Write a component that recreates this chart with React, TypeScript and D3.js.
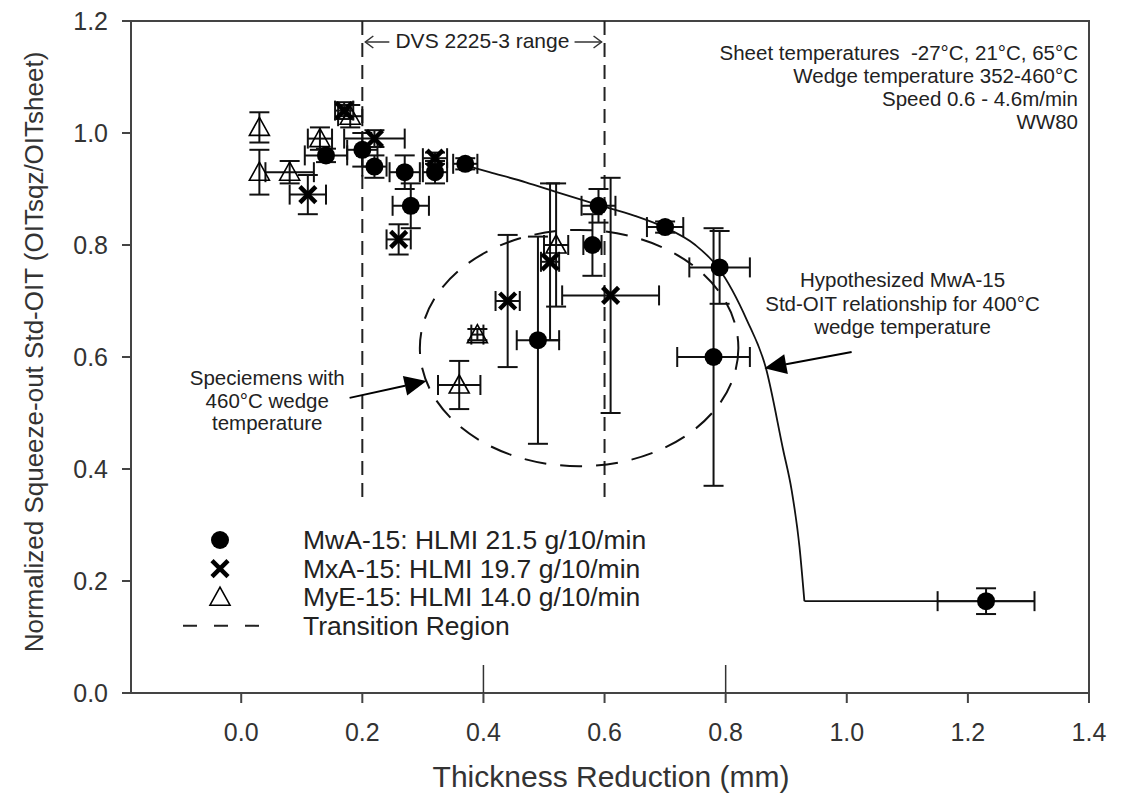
import React from 'react'
import * as d3 from 'd3'

// MwA-15 (filled circles)
const mwaX = [0.14, 0.2, 0.22, 0.27, 0.28, 0.32, 0.37, 0.49, 0.58, 0.59, 0.7, 0.78, 0.79, 1.23]
const mwaY = [0.96, 0.97, 0.94, 0.93, 0.87, 0.93, 0.945, 0.63, 0.8, 0.87, 0.832, 0.6, 0.76, 0.164]
const mwaXErr = [0.035, 0.025, 0.02, 0.025, 0.03, 0.02, 0.02, 0.035, 0.015, 0.028, 0.03, 0.06, 0.05, 0.08]
const mwaYErr = [0.012, 0.03, 0.02, 0.03, 0.04, 0.02, 0.01, 0.185, 0.055, 0.03, 0.01, 0.23, 0.065, 0.023]

// MxA-15 (crosses)
const mxaX = [0.11, 0.17, 0.22, 0.26, 0.32, 0.44, 0.51, 0.61]
const mxaY = [0.89, 1.04, 0.99, 0.81, 0.955, 0.7, 0.77, 0.71]
const mxaXErr = [0.03, 0.015, 0.05, 0.02, 0.02, 0.02, 0.015, 0.08]
const mxaYErr = [0.035, 0.015, 0.015, 0.027, 0.01, 0.118, 0.14, 0.21]

// MyE-15 (open triangles)
const myeX = [0.03, 0.03, 0.08, 0.13, 0.18, 0.36, 0.39, 0.52]
const myeY = [1.01, 0.93, 0.93, 0.99, 1.03, 0.55, 0.64, 0.8]
const myeXErr = [0, 0, 0.04, 0.02, 0.02, 0.035, 0.01, 0.02]
const myeYErr = [0.027, 0.04, 0.02, 0.02, 0.02, 0.043, 0.01, 0.11]

// hypothesized relationship
const fitX = [0.367, 0.41, 0.47, 0.525, 0.588, 0.65, 0.698, 0.75, 0.788, 0.835, 0.866, 0.895, 0.909, 0.922, 0.93]
const fitY = [0.943, 0.93, 0.912, 0.893, 0.872, 0.852, 0.832, 0.8, 0.759, 0.666, 0.582, 0.434, 0.362, 0.26, 0.164]
const plateauX = [0.93, 1.31]
const plateauY = [0.164, 0.164]

// transition region ellipse (centre and radii in data units)
const ellipseCenter = [0.558, 0.616]
const ellipseRadius = [0.263, 0.211]

const xTicks = [0.0, 0.2, 0.4, 0.6, 0.8, 1.0, 1.2, 1.4]
const yTicks = [0.0, 0.2, 0.4, 0.6, 0.8, 1.0, 1.2]
const longTicks = [0.4, 0.8]
const rangeLines = [0.2, 0.6]

const legendLabels = [
  'MwA-15: HLMI 21.5 g/10/min',
  'MxA-15: HLMI 19.7 g/10/min',
  'MyE-15: HLMI 14.0 g/10/min',
  'Transition Region',
]
const infoLines = [
  'Sheet temperatures \u00a0-27°C, 21°C, 65°C',
  'Wedge temperature 352-460°C',
  'Speed 0.6 - 4.6m/min',
  'WW80',
]
const specimenLines = ['Speciemens with', '460°C wedge', 'temperature']
const hypoLines = ['Hypothesized MwA-15', 'Std-OIT relationship for 400°C', 'wedge temperature']

const FONT = '"Liberation Sans", Arial, Helvetica, sans-serif'
const INK = '#222'

const W = 1121
const H = 797
const left = 131, right = 1089, top = 21, bottom = 693

const x = d3.scaleLinear().domain([-0.182, 1.4]).range([left, right])
const y = d3.scaleLinear().domain([0, 1.2]).range([bottom, top])

function ErrorBars({ xs, ys, xe, ye }: { xs: number[]; ys: number[]; xe: number[]; ye: number[] }) {
  const cap = 10
  return (
    <g stroke="#111" strokeWidth={2} fill="none">
      {xs.map((xv, i) => {
        const cx = x(xv), cy = y(ys[i])
        const parts: JSX.Element[] = []
        if (ye[i] > 0) {
          const y0 = y(ys[i] - ye[i]), y1 = y(ys[i] + ye[i])
          parts.push(<line key="v" x1={cx} x2={cx} y1={y0} y2={y1} />)
          parts.push(<line key="vc0" x1={cx - cap} x2={cx + cap} y1={y0} y2={y0} />)
          parts.push(<line key="vc1" x1={cx - cap} x2={cx + cap} y1={y1} y2={y1} />)
        }
        if (xe[i] > 0) {
          const x0 = x(xv - xe[i]), x1 = x(xv + xe[i])
          parts.push(<line key="h" x1={x0} x2={x1} y1={cy} y2={cy} />)
          parts.push(<line key="hc0" x1={x0} x2={x0} y1={cy - cap} y2={cy + cap} />)
          parts.push(<line key="hc1" x1={x1} x2={x1} y1={cy - cap} y2={cy + cap} />)
        }
        return <g key={i}>{parts}</g>
      })}
    </g>
  )
}

const Circle = ({ cx, cy }: { cx: number; cy: number }) => <circle cx={cx} cy={cy} r={9} fill="#000" />
const Cross = ({ cx, cy }: { cx: number; cy: number }) => (
  <g stroke="#000" strokeWidth={4.5}>
    <line x1={cx - 8} y1={cy - 8} x2={cx + 8} y2={cy + 8} />
    <line x1={cx - 8} y1={cy + 8} x2={cx + 8} y2={cy - 8} />
  </g>
)
const Triangle = ({ cx, cy }: { cx: number; cy: number }) => (
  <path
    d={`M${cx},${cy - 10} L${cx + 10},${cy + 8} L${cx - 10},${cy + 8} Z`}
    fill="none"
    stroke="#000"
    strokeWidth={1.6}
  />
)

function Arrow({ from, to }: { from: [number, number]; to: [number, number] }) {
  const [x0, y0] = [x(from[0]), y(from[1])]
  const [x1, y1] = [x(to[0]), y(to[1])]
  const ang = Math.atan2(y1 - y0, x1 - x0)
  const len = 22, hw = 10
  const bx = x1 - len * Math.cos(ang), by = y1 - len * Math.sin(ang)
  const px = -Math.sin(ang) * hw, py = Math.cos(ang) * hw
  return (
    <g>
      <line x1={x0} y1={y0} x2={bx} y2={by} stroke="#000" strokeWidth={2} />
      <path d={`M${x1},${y1} L${bx + px},${by + py} L${bx - px},${by - py} Z`} fill="#000" />
    </g>
  )
}

export default function App() {
  const fitLine = d3.line<number>().x((d) => x(d)).y((_, i) => y(fitY[i])).curve(d3.curveMonotoneX)
  const plateau = d3.line<number>().x((d) => x(d)).y((_, i) => y(plateauY[i]))

  const ecx = x(ellipseCenter[0]), ecy = y(ellipseCenter[1])
  const erx = x(ellipseCenter[0] + ellipseRadius[0]) - ecx
  const ery = ecy - y(ellipseCenter[1] + ellipseRadius[1])

  const dvsY = 42
  const x02 = x(rangeLines[0]), x06 = x(rangeLines[1])

  return (
    <svg width={W} height={H} style={{ position: 'absolute', left: 0, top: 0, background: '#fff' }} fontFamily={FONT}>
      <rect width={W} height={H} fill="#fff" />

      {/* frame */}
      <rect x={left} y={top} width={right - left} height={bottom - top} fill="none" stroke="#444" strokeWidth={2} />

      {/* y ticks */}
      {yTicks.map((t) => (
        <g key={t}>
          <line x1={left - 9} x2={left} y1={y(t)} y2={y(t)} stroke="#444" strokeWidth={2} />
          <text x={108} y={y(t)} dy="0.36em" textAnchor="end" fontSize={25} fill="#333">
            {t.toFixed(1)}
          </text>
        </g>
      ))}

      {/* x ticks */}
      {xTicks.map((t) => (
        <g key={t}>
          <line x1={x(t)} x2={x(t)} y1={bottom} y2={bottom + 10} stroke="#444" strokeWidth={2} />
          <text x={x(t)} y={741} textAnchor="middle" fontSize={25} fill="#333">
            {t.toFixed(1)}
          </text>
        </g>
      ))}
      {longTicks.map((t) => (
        <line key={t} x1={x(t)} x2={x(t)} y1={bottom} y2={bottom - 28} stroke="#333" strokeWidth={1.5} />
      ))}

      {/* axis titles */}
      <text x={611} y={787} textAnchor="middle" fontSize={30} fill="#333">
        Thickness Reduction (mm)
      </text>
      <text
        transform={`translate(43, 352) rotate(-90)`}
        textAnchor="middle"
        fontSize={26}
        fill="#333"
      >
        Normalized Squeeze-out Std-OIT (OITsqz/OITsheet)
      </text>

      {/* DVS range */}
      {rangeLines.map((t) => (
        <line key={t} x1={x(t)} x2={x(t)} y1={top} y2={y(0.345)} stroke="#222" strokeWidth={2} strokeDasharray="14,8" />
      ))}
      <g stroke="#333" strokeWidth={1.5} fill="none">
        <line x1={x02 + 3} x2={x02 + 27} y1={dvsY} y2={dvsY} />
        <path d={`M${x02 + 11},${dvsY - 6} L${x02 + 3},${dvsY} L${x02 + 11},${dvsY + 6}`} />
        <line x1={x06 - 30} x2={x06 - 3} y1={dvsY} y2={dvsY} />
        <path d={`M${x06 - 11},${dvsY - 6} L${x06 - 3},${dvsY} L${x06 - 11},${dvsY + 6}`} />
      </g>
      <text x={(x02 + x06) / 2 - 1} y={48} textAnchor="middle" fontSize={21} fill={INK}>
        DVS 2225-3 range
      </text>

      {/* info block */}
      {infoLines.map((s, i) => (
        <text key={s} x={1078} y={60 + i * 23} textAnchor="end" fontSize={20.5} fill={INK}>
          {s}
        </text>
      ))}

      {/* transition ellipse */}
      <ellipse cx={ecx} cy={ecy} rx={erx} ry={ery} fill="none" stroke="#111" strokeWidth={2} strokeDasharray="22,14" />

      {/* fitted relationship */}
      <path d={fitLine(fitX) || ''} fill="none" stroke="#111" strokeWidth={1.8} />
      <path d={plateau(plateauX) || ''} fill="none" stroke="#111" strokeWidth={1.8} />

      {/* error bars */}
      <ErrorBars xs={myeX} ys={myeY} xe={myeXErr} ye={myeYErr} />
      <ErrorBars xs={mxaX} ys={mxaY} xe={mxaXErr} ye={mxaYErr} />
      <ErrorBars xs={mwaX} ys={mwaY} xe={mwaXErr} ye={mwaYErr} />

      {/* markers */}
      {myeX.map((v, i) => <Triangle key={'t' + i} cx={x(v)} cy={y(myeY[i])} />)}
      {mxaX.map((v, i) => <Cross key={'x' + i} cx={x(v)} cy={y(mxaY[i])} />)}
      {mwaX.map((v, i) => <Circle key={'c' + i} cx={x(v)} cy={y(mwaY[i])} />)}

      {/* annotations */}
      {specimenLines.map((s, i) => (
        <text key={s} x={x(0.043)} y={385 + i * 22.5} textAnchor="middle" fontSize={20.5} fill={INK}>
          {s}
        </text>
      ))}
      <Arrow from={[0.179, 0.527]} to={[0.306, 0.557]} />
      {hypoLines.map((s, i) => (
        <text key={s} x={x(1.092)} y={287 + i * 23.5} textAnchor="middle" fontSize={20.5} fill={INK}>
          {s}
        </text>
      ))}
      <Arrow from={[1.008, 0.609]} to={[0.864, 0.58]} />

      {/* legend */}
      {legendLabels.map((s, i) => {
        const cy = 540 + i * 28.6
        return (
          <g key={s}>
            {i === 0 && <Circle cx={220} cy={cy} />}
            {i === 1 && <Cross cx={220} cy={cy} />}
            {i === 2 && <Triangle cx={220} cy={cy} />}
            {i === 3 && <line x1={183} x2={260} y1={cy} y2={cy} stroke="#222" strokeWidth={2} strokeDasharray="14,17" />}
            <text x={303} y={cy + 9} fontSize={26.5} fill={INK}>
              {s}
            </text>
          </g>
        )
      })}
    </svg>
  )
}
